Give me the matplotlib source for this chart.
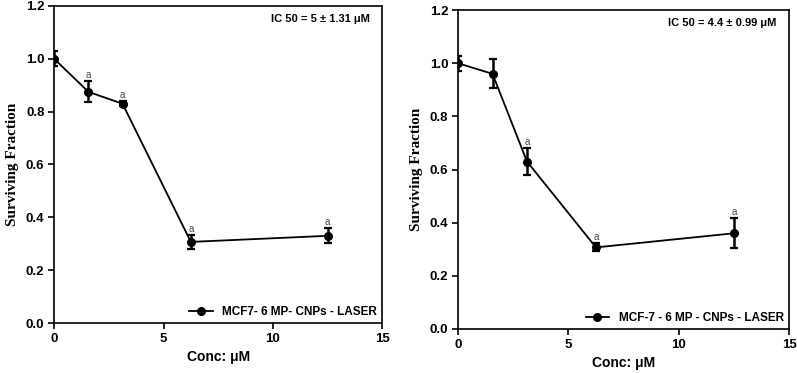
import numpy as np
import matplotlib
matplotlib.use("Agg")
import matplotlib.pyplot as plt

# Data
conc = [0, 1.5625, 3.125, 6.25, 12.5]

left_sf = [1.0, 0.875, 0.83, 0.307, 0.33]
left_err = [0.028, 0.04, 0.01, 0.025, 0.028]
left_sig = [False, True, True, True, True]
left_label = "MCF7- 6 MP- CNPs - LASER"
left_ic50 = "IC 50 = 5 \u00b1 1.31 \u03bcM"

right_sf = [1.0, 0.96, 0.63, 0.307, 0.36]
right_err = [0.028, 0.055, 0.05, 0.015, 0.056]
right_sig = [False, False, True, True, True]
right_label = "MCF-7 - 6 MP - CNPs - LASER"
right_ic50 = "IC 50 = 4.4 \u00b1 0.99 \u03bcM"

sans = ["Liberation Sans", "DejaVu Sans"]
serif = ["Liberation Serif", "DejaVu Serif"]

fig = plt.figure(figsize=(7.97, 3.73), dpi=100)
ax1 = fig.add_axes([0.068, 0.134, 0.4115, 0.850])
ax2 = fig.add_axes([0.5747, 0.118, 0.4153, 0.855])


def draw(ax, y, err, sig, label, ic50):
    ax.errorbar(conc, y, yerr=err, color="black", fmt="none",
                elinewidth=1.8, capsize=2.6, capthick=1.6)
    ax.plot(conc, y, color="black", marker="o", markersize=5.5,
            linewidth=1.3, label=label)
    for x, v, e, s in zip(conc, y, err, sig):
        if s:
            ax.text(x, v + e + 0.004, "a", ha="center", va="bottom",
                    fontsize=7, color="#444444", family=sans)
    ax.set_xlim(0, 15)
    ax.set_ylim(0, 1.2)
    ax.set_xticks([0, 5, 10, 15])
    ax.set_yticks(np.arange(0, 1.21, 0.2))
    ax.set_yticklabels([f"{t:.1f}" for t in np.arange(0, 1.21, 0.2)])
    ax.tick_params(direction="out", length=4, width=1.2, labelsize=9.5, pad=3)
    for lab in ax.get_xticklabels() + ax.get_yticklabels():
        lab.set_fontfamily(sans)
        lab.set_fontweight("bold")
    for sp in ax.spines.values():
        sp.set_linewidth(1.2)
    ax.set_xlabel("Conc: \u03bcM", fontsize=10, fontweight="bold",
                  family=sans, labelpad=4)
    ax.set_ylabel("Surviving Fraction", fontsize=11, fontweight="bold",
                  family=serif, labelpad=5)
    ax.text(0.963, 0.975, ic50, transform=ax.transAxes, ha="right", va="top",
            fontsize=8, fontweight="bold", family=sans)
    ax.legend(loc="lower right", frameon=False, handlelength=2.0,
              handletextpad=0.8, borderaxespad=0.05,
              prop={"family": sans, "weight": "bold", "size": 8.5})


draw(ax1, left_sf, left_err, left_sig, left_label, left_ic50)
draw(ax2, right_sf, right_err, right_sig, right_label, right_ic50)

fig.savefig("out.png", dpi=100)
